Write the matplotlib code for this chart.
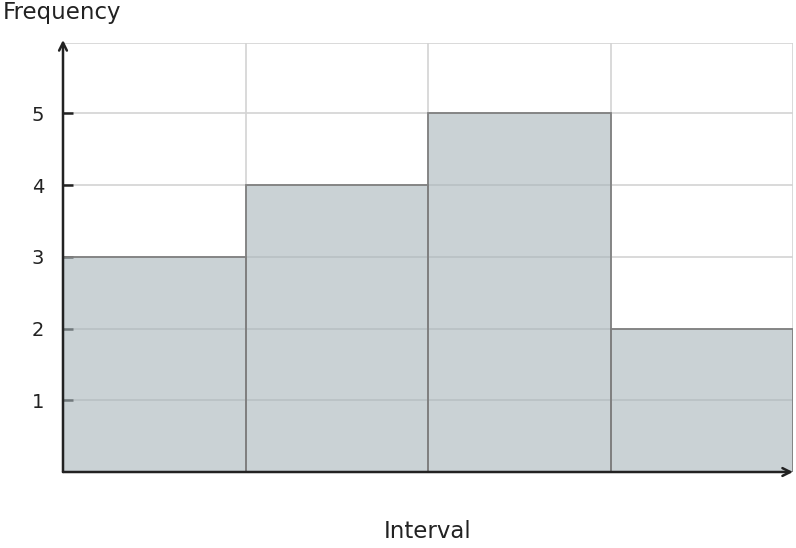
import matplotlib
matplotlib.use('Agg')
import matplotlib.pyplot as plt

# Histogram data
bin_edges = [0, 1, 2, 3, 4]
frequencies = [3, 4, 5, 2]
y_ticks = [1, 2, 3, 4, 5]

fig = plt.figure(figsize=(7.96, 5.48), dpi=100)
ax = fig.add_axes([63 / 796, 76 / 548, 730 / 796, 429 / 548])

ax.set_xlim(bin_edges[0], bin_edges[-1])
ax.set_ylim(0, 5.98)
ax.set_axisbelow(True)

# grid
for x in bin_edges[1:]:
    ax.axvline(x, color='#d3d3d3', lw=1.2, zorder=0)
for y in y_ticks + [5.98]:
    ax.axhline(y, color='#d3d3d3', lw=1.2, zorder=0)

widths = [bin_edges[i + 1] - bin_edges[i] for i in range(len(frequencies))]
ax.bar(bin_edges[:-1], frequencies, width=widths, align='edge',
       color='#a7b4b9', alpha=0.6, edgecolor='none', zorder=2)
ax.bar(bin_edges[:-1], frequencies, width=widths, align='edge',
       facecolor='none', edgecolor='#808080', lw=1.3, zorder=3)

for s in ax.spines.values():
    s.set_visible(False)

ax.set_xticks([])
ax.set_yticks(y_ticks)
ax.tick_params(axis='y', direction='in', length=7.2, width=1.8, color='#222222',
               labelsize=14, labelcolor='#222222', pad=13.5)

# axis arrows
ax.annotate('', xy=(0, 1.007), xytext=(0, 0), xycoords='axes fraction',
            arrowprops=dict(arrowstyle='->', color='#222222', lw=1.8,
                            shrinkA=0, shrinkB=0, mutation_scale=14), zorder=5)
ax.annotate('', xy=(1.0, 0), xytext=(0, 0), xycoords='axes fraction',
            arrowprops=dict(arrowstyle='->', color='#222222', lw=1.8,
                            shrinkA=0, shrinkB=0, mutation_scale=14), zorder=5)

fig.text(3 / 796, 1 - 13 / 548, 'Frequency', fontsize=16.5, color='#222222',
         ha='left', va='center')
fig.text(428 / 796, 1 - 531 / 548, 'Interval', fontsize=16.5, color='#222222',
         ha='center', va='center')

fig.savefig('out.png', dpi=100)
